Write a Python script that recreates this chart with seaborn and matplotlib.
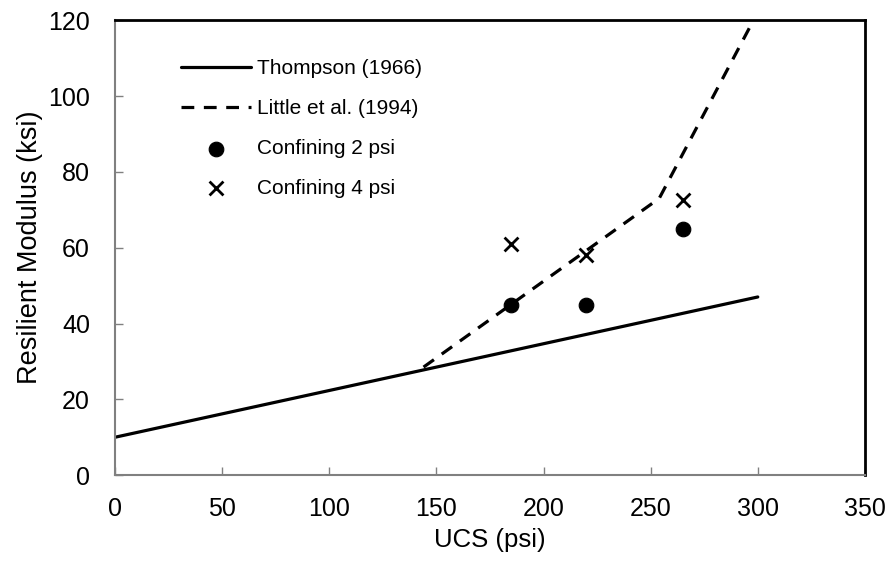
import matplotlib
matplotlib.use("Agg")
import matplotlib.pyplot as plt
import seaborn as sns

thompson_x = [0, 300]
thompson_y = [10, 47]
little_x = [144, 254, 298]
little_y = [28.5, 73, 120]
conf2_x = [185, 220, 265]
conf2_y = [45, 45, 65]
conf4_x = [185, 220, 265]
conf4_y = [61, 58, 72.5]
x_ticks = [0, 50, 100, 150, 200, 250, 300, 350]
y_ticks = [0, 20, 40, 60, 80, 100, 120]

sns.set_theme(style="white")
plt.rcParams['font.family'] = ['Liberation Sans', 'DejaVu Sans']
plt.rcParams['text.color'] = 'black'
plt.rcParams['axes.labelcolor'] = 'black'

fig = plt.figure(figsize=(8.88, 5.61), dpi=100)
ax = fig.add_axes([0.1295, 0.153, 0.8445, 0.811])

sns.lineplot(x=thompson_x, y=thompson_y, ax=ax, color="black", linewidth=2.3,
             label="Thompson (1966)")
sns.lineplot(x=little_x, y=little_y, ax=ax, color="black", linewidth=2.3,
             linestyle=(0, (4, 3)), label="Little et al. (1994)", sort=False)
sns.scatterplot(x=conf2_x, y=conf2_y, ax=ax, color="black", marker="o", s=110,
                edgecolor="black", label="Confining 2 psi")
sns.scatterplot(x=conf4_x, y=conf4_y, ax=ax, color="black", marker="x", s=100,
                linewidth=2, label="Confining 4 psi")

ax.set_xlim(0, 350)
ax.set_ylim(0, 120)
ax.set_xticks(x_ticks)
ax.set_yticks(y_ticks)
ax.tick_params(axis="both", direction="in", length=6, width=1, color="#808080",
               labelcolor="black", labelsize=18, bottom=True, left=True)
ax.tick_params(axis="x", pad=16)
ax.tick_params(axis="y", pad=18)
ax.set_xlabel("UCS (psi)", fontsize=18.5, labelpad=5)
ax.set_ylabel("Resilient Modulus (ksi)", fontsize=19.5, labelpad=4)

for s in ["left", "bottom"]:
    ax.spines[s].set_color("#808080")
    ax.spines[s].set_linewidth(1.5)
for s in ["top", "right"]:
    ax.spines[s].set_color("black")
    ax.spines[s].set_linewidth(2)

leg = ax.legend(loc="upper left", bbox_to_anchor=(0.088, 0.914), frameon=False,
                fontsize=15, labelspacing=1.0, handlelength=3.35, handletextpad=0.3,
                borderpad=0, borderaxespad=0)

fig.savefig("out.png", dpi=100)
